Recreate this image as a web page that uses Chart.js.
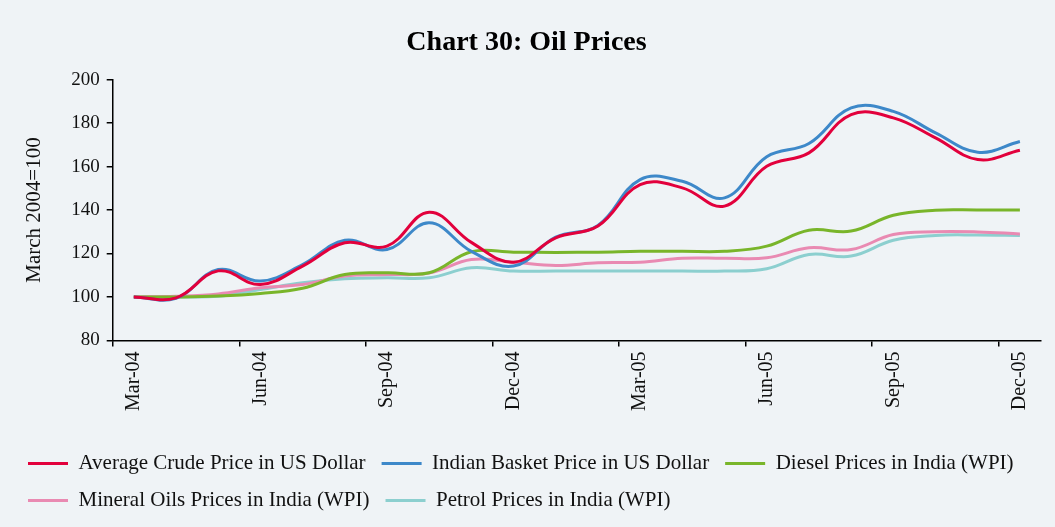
<!DOCTYPE html>
<html lang="en">
<head>
  <meta charset="UTF-8">
  <title>Chart 30: Oil Prices</title>
  <script src="https://cdn.jsdelivr.net/npm/chart.js"></script>
  <style>
    body { margin: 0; background: #eff3f6; }
    #chartContainer { width: 1055px; height: 527px; }
  </style>
</head>
<body>
  <div id="chartContainer">
    <canvas id="oilChart"></canvas>
  </div>

  <script>
    const months = ["Mar-04", "Apr-04", "May-04", "Jun-04", "Jul-04", "Aug-04", "Sep-04", "Oct-04", "Nov-04", "Dec-04", "Jan-05",
                    "Feb-05", "Mar-05", "Apr-05", "May-05", "Jun-05", "Jul-05", "Aug-05", "Sep-05", "Oct-05", "Nov-05", "Dec-05"];

    const crudeUSD  = [100, 99.6, 112, 105.7, 114.2, 124.9, 123.4, 139, 125.1, 116, 127.2, 132.6, 151.7, 150.2, 141.8, 160.1, 166.3, 183.9, 182.4, 173.2, 163.2, 167.5];
    const basketUSD = [100, 99.4, 112.6, 107.3, 114.9, 126.1, 121.8, 134.1, 121, 114.2, 127.5, 132.9, 154, 153.2, 145.6, 164.5, 170.6, 187, 185.4, 175.5, 166.6, 171.5];
    const dieselWPI = [100, 100, 100.4, 101.6, 104, 110.3, 111.1, 111.1, 120.8, 120.6, 120.5, 120.6, 121, 121, 121, 123.4, 130.7, 130.3, 137.6, 139.9, 140, 140];
    const mineralWPI = [100, 100.3, 101.4, 104.2, 105.7, 109.6, 110.3, 111, 117.2, 116, 114.5, 115.7, 116, 117.8, 117.8, 118, 122.6, 121.8, 128.7, 130, 129.9, 129];
    const petrolWPI = [100, 100, 100.3, 103.4, 106.5, 108.4, 108.8, 108.8, 113.4, 111.9, 111.9, 111.9, 111.9, 111.9, 111.9, 113, 119.5, 118.8, 126.1, 128.3, 128.5, 128.3];

    const yTicks = [80, 100, 120, 140, 160, 180, 200];

    const serif = "'Liberation Serif', 'Times New Roman', serif";

    function series(label, data, color) {
      return {
        label,
        data,
        borderColor: color,
        backgroundColor: color,
        borderWidth: 3,
        pointRadius: 0,
        tension: 0.4,
        fill: false
      };
    }

    const ctx = document.getElementById("oilChart").getContext("2d");
    new Chart(ctx, {
      type: 'line',
      data: {
        labels: months,
        datasets: [
          series("Average Crude Price in US Dollar", crudeUSD, "#e2003c"),
          series("Indian Basket Price in US Dollar", basketUSD, "#3d88c9"),
          series("Diesel Prices in India (WPI)", dieselWPI, "#79b52a"),
          series("Mineral Oils Prices in India (WPI)", mineralWPI, "#e98ab2"),
          series("Petrol Prices in India (WPI)", petrolWPI, "#8ccfcf")
        ]
      },
      options: {
        responsive: true,
        maintainAspectRatio: false,
        animation: false,
        layout: { padding: { left: 12, right: 14, top: 0, bottom: 6 } },
        plugins: {
          title: {
            display: true,
            text: 'Chart 30: Oil Prices',
            color: '#000',
            font: { family: serif, size: 28, weight: 'bold' },
            padding: { top: 26, bottom: 20 }
          },
          legend: {
            position: 'bottom',
            align: 'start',
            labels: {
              usePointStyle: true,
              pointStyle: 'line',
              pointStyleWidth: 40,
              padding: 16,
              color: '#111',
              font: { family: serif, size: 21 }
            }
          },
          tooltip: { enabled: false }
        },
        scales: {
          x: {
            offset: true,
            grid: {
              offset: true,
              drawOnChartArea: false,
              tickLength: 6,
              lineWidth: 1.5,
              color: c => c.index % 3 === 0 ? '#000' : 'rgba(0,0,0,0)'
            },
            border: { color: '#000', width: 1.5 },
            ticks: {
              autoSkip: false,
              minRotation: 90,
              maxRotation: 90,
              padding: 5,
              color: '#111',
              font: { family: serif, size: 20 },
              callback: (val, i) => i % 3 === 0 ? months[i] : ''
            },
            afterFit: scale => { scale.height += 21; }
          },
          y: {
            min: yTicks[0],
            max: yTicks[yTicks.length - 1],
            afterBuildTicks: scale => { scale.ticks = yTicks.map(v => ({ value: v })); },
            grid: {
              drawOnChartArea: false,
              tickLength: 6,
              lineWidth: 1.5,
              color: '#000'
            },
            border: { color: '#000', width: 1.5 },
            ticks: {
              padding: 7,
              color: '#111',
              font: { family: serif, size: 19 }
            },
            title: {
              display: true,
              text: 'March 2004=100',
              color: '#111',
              font: { family: serif, size: 21 },
              padding: { top: 10, bottom: 17 }
            }
          }
        }
      }
    });
  </script>
</body>
</html>
